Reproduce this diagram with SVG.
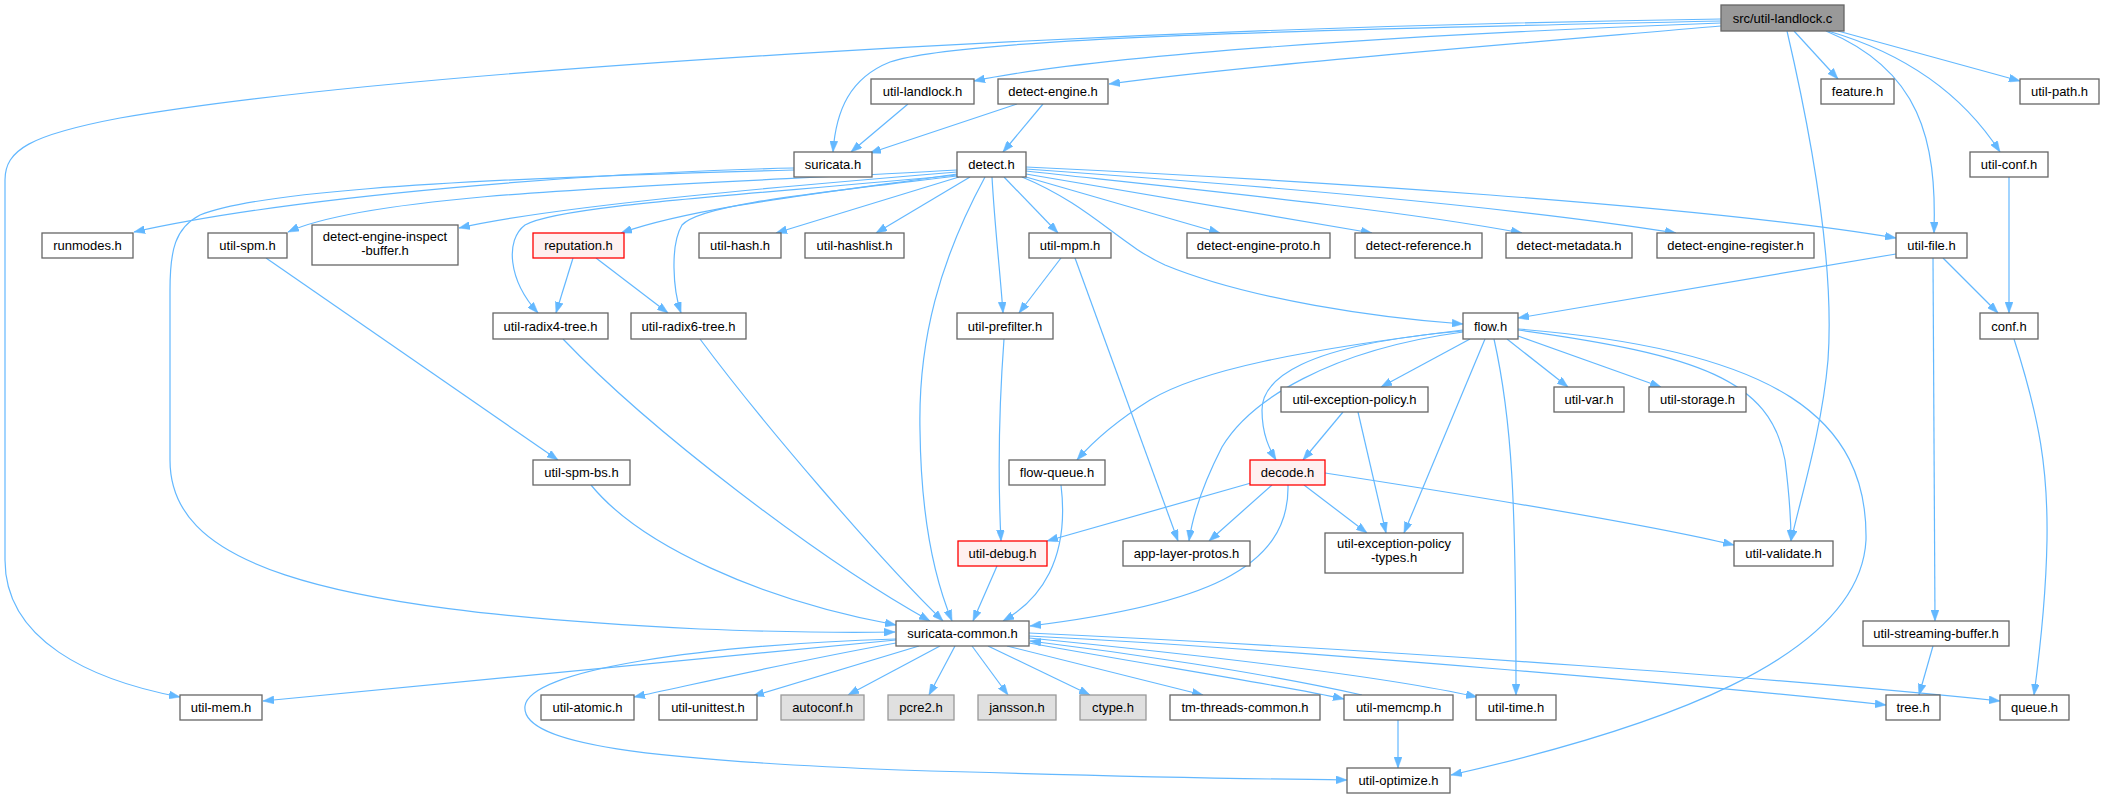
<svg xmlns="http://www.w3.org/2000/svg" width="2105" height="799" viewBox="0 0 2105 799">
<style>
.nd rect{fill:#ffffff;stroke:#666666;stroke-width:1.3}
.rd rect{fill:#fff0f0;stroke:#ff0000;stroke-width:1.3}
.gr rect{fill:#e0e0e0;stroke:#999999;stroke-width:1.3}
.sr rect{fill:#999999;stroke:#666666;stroke-width:1.3}
text{font-family:"Liberation Sans",Arial,sans-serif;font-size:13px;text-anchor:middle;fill:#000000}
#edges path{fill:none;stroke:#63b8ff;stroke-width:1.2;marker-end:url(#ah)}
</style>
<defs>
<marker id="ah" viewBox="0 0 11 8" refX="11" refY="4" markerWidth="11" markerHeight="8" markerUnits="userSpaceOnUse" orient="auto">
<path d="M0,0 L11,4 L0,8 z" fill="#63b8ff" stroke="#63b8ff" stroke-width="0.5"/>
</marker>
</defs>
<rect x="0" y="0" width="2105" height="799" fill="#ffffff"/>
<g id="edges">
<path d="M1721,21 C1300,30 960,38 890,62 C850,78 836,110 833,152"/>
<path d="M1721,23 C1400,35 1100,55 974,81"/>
<path d="M1721,26 C1500,45 1250,65 1109,84"/>
<path d="M1721,19 C1100,28 400,70 120,118 C30,135 5,150 5,180 L5,560 C5,640 90,680 180,697"/>
<path d="M1794,31 L1838,79"/>
<path d="M1838,31 L2020,81"/>
<path d="M1828,31 C1900,52 1960,90 2000,152"/>
<path d="M1826,31 C1920,70 1937,140 1934,233"/>
<path d="M1787,31 C1810,130 1835,260 1828,360 C1822,430 1800,500 1791,541"/>
<path d="M908,104 L851,152"/>
<path d="M1017,104 L870,153"/>
<path d="M1043,104 L1003,152"/>
<path d="M794,168 C600,172 300,195 134,232"/>
<path d="M794,170 C400,180 250,195 200,215 C175,228 170,250 170,290 L170,460 C170,560 300,610 700,629 C780,632 850,633 895,632"/>
<path d="M957,170 C700,185 380,190 288,232"/>
<path d="M957,172 C800,185 560,205 459,228"/>
<path d="M957,174 C850,190 700,205 621,233"/>
<path d="M957,175 C750,195 560,205 525,225 C505,240 508,280 538,313"/>
<path d="M957,176 C800,195 700,205 682,225 C670,245 673,290 681,313"/>
<path d="M959,177 L776,233"/>
<path d="M970,177 L876,233"/>
<path d="M985,177 C940,260 918,340 920,430 C921,520 935,580 952,621"/>
<path d="M992,177 C995,230 1000,270 1003,313"/>
<path d="M1004,177 L1058,233"/>
<path d="M1022,177 C1090,205 1120,245 1165,265 C1250,300 1380,318 1463,324"/>
<path d="M1026,177 L1220,233"/>
<path d="M1026,174 L1372,233"/>
<path d="M1026,171 C1200,190 1400,210 1522,233"/>
<path d="M1026,169 C1250,185 1500,205 1676,233"/>
<path d="M1026,167 C1300,180 1700,205 1896,238"/>
<path d="M573,258 L556,313"/>
<path d="M596,258 L668,313"/>
<path d="M266,258 L558,460"/>
<path d="M563,339 C650,430 820,560 930,621"/>
<path d="M700,339 C760,420 880,560 943,621"/>
<path d="M591,485 C640,545 760,600 896,625"/>
<path d="M1061,258 L1019,313"/>
<path d="M1075,258 L1178,541"/>
<path d="M1004,339 C998,420 998,480 1001,541"/>
<path d="M997,566 L973,621"/>
<path d="M1061,485 C1070,560 1040,600 1003,621"/>
<path d="M1288,485 C1290,570 1200,605 1030,626"/>
<path d="M1470,339 L1381,387"/>
<path d="M1463,331 C1300,345 1262,380 1262,410 C1262,435 1270,450 1276,460"/>
<path d="M1463,330 C1300,350 1200,370 1150,400 C1110,425 1090,445 1077,460"/>
<path d="M1463,332 C1330,350 1250,400 1222,447 C1200,490 1192,520 1189,541"/>
<path d="M1485,339 L1404,533"/>
<path d="M1494,339 C1512,420 1516,500 1516,695"/>
<path d="M1507,339 L1568,387"/>
<path d="M1518,336 L1661,387"/>
<path d="M1518,330 C1700,355 1770,380 1785,460 C1790,500 1791,520 1791,541"/>
<path d="M1518,329 C1780,350 1868,420 1866,540 C1860,660 1650,730 1451,775"/>
<path d="M1343,412 L1303,460"/>
<path d="M1358,412 L1386,533"/>
<path d="M1251,483 L1047,541"/>
<path d="M1272,485 L1209,541"/>
<path d="M1304,485 L1367,533"/>
<path d="M1325,473 C1500,500 1650,525 1734,545"/>
<path d="M1896,254 L1518,318"/>
<path d="M1943,258 L1998,313"/>
<path d="M1933,258 L1935,621"/>
<path d="M2009,177 L2009,313"/>
<path d="M2014,339 C2040,420 2048,470 2047,540 C2046,600 2040,650 2034,695"/>
<path d="M1933,646 L1919,695"/>
<path d="M896,640 L263,701"/>
<path d="M896,643 C800,660 700,683 634,697"/>
<path d="M919,646 L753,696"/>
<path d="M940,646 L848,695"/>
<path d="M955,646 L929,695"/>
<path d="M972,646 L1008,695"/>
<path d="M988,646 L1090,695"/>
<path d="M1007,646 L1203,695"/>
<path d="M1029,643 C1150,665 1280,685 1344,699"/>
<path d="M1362,695 C1260,672 1120,652 1030,641"/>
<path d="M1029,638 C1200,655 1380,675 1477,697"/>
<path d="M1029,636 C1300,650 1700,685 1886,705"/>
<path d="M1029,633 C1400,650 1800,680 2000,701"/>
<path d="M896,639 C700,645 530,670 525,706 C520,745 650,760 900,770 C1100,776 1250,779 1347,780"/>
<path d="M1398,720 L1398,768"/>
</g>
<g id="n-src" class="sr"><rect x="1721" y="5" width="123" height="26"/><text x="1782.5" y="23">src/util-landlock.c</text></g>
<g id="n-util-landlock" class="nd"><rect x="871" y="79" width="103" height="25"/><text x="922.5" y="96">util-landlock.h</text></g>
<g id="n-detect-engine" class="nd"><rect x="998" y="79" width="110" height="25"/><text x="1053" y="96">detect-engine.h</text></g>
<g id="n-feature" class="nd"><rect x="1821" y="79" width="73" height="25"/><text x="1857.5" y="96">feature.h</text></g>
<g id="n-util-path" class="nd"><rect x="2020" y="79" width="79" height="25"/><text x="2059.5" y="96">util-path.h</text></g>
<g id="n-suricata" class="nd"><rect x="794" y="152" width="78" height="25"/><text x="833" y="169">suricata.h</text></g>
<g id="n-detect" class="nd"><rect x="957" y="152" width="69" height="25"/><text x="991.5" y="169">detect.h</text></g>
<g id="n-util-conf" class="nd"><rect x="1970" y="152" width="78" height="25"/><text x="2009" y="169">util-conf.h</text></g>
<g id="n-runmodes" class="nd"><rect x="42" y="233" width="91" height="25"/><text x="87.5" y="250">runmodes.h</text></g>
<g id="n-util-spm" class="nd"><rect x="208" y="233" width="79" height="25"/><text x="247.5" y="250">util-spm.h</text></g>
<g id="n-inspect-buffer" class="nd"><rect x="312" y="225" width="146" height="40"/><text x="385" y="241">detect-engine-inspect</text><text x="385" y="255">-buffer.h</text></g>
<g id="n-reputation" class="rd"><rect x="533" y="233" width="91" height="25"/><text x="578.5" y="250">reputation.h</text></g>
<g id="n-util-hash" class="nd"><rect x="699" y="233" width="82" height="25"/><text x="740" y="250">util-hash.h</text></g>
<g id="n-util-hashlist" class="nd"><rect x="805" y="233" width="99" height="25"/><text x="854.5" y="250">util-hashlist.h</text></g>
<g id="n-util-mpm" class="nd"><rect x="1029" y="233" width="82" height="25"/><text x="1070" y="250">util-mpm.h</text></g>
<g id="n-detect-engine-proto" class="nd"><rect x="1187" y="233" width="143" height="25"/><text x="1258.5" y="250">detect-engine-proto.h</text></g>
<g id="n-detect-reference" class="nd"><rect x="1355" y="233" width="127" height="25"/><text x="1418.5" y="250">detect-reference.h</text></g>
<g id="n-detect-metadata" class="nd"><rect x="1506" y="233" width="126" height="25"/><text x="1569" y="250">detect-metadata.h</text></g>
<g id="n-detect-engine-register" class="nd"><rect x="1657" y="233" width="157" height="25"/><text x="1735.5" y="250">detect-engine-register.h</text></g>
<g id="n-util-file" class="nd"><rect x="1896" y="233" width="71" height="25"/><text x="1931.5" y="250">util-file.h</text></g>
<g id="n-util-radix4-tree" class="nd"><rect x="493" y="313" width="115" height="26"/><text x="550.5" y="331">util-radix4-tree.h</text></g>
<g id="n-util-radix6-tree" class="nd"><rect x="631" y="313" width="115" height="26"/><text x="688.5" y="331">util-radix6-tree.h</text></g>
<g id="n-util-prefilter" class="nd"><rect x="957" y="313" width="96" height="26"/><text x="1005" y="331">util-prefilter.h</text></g>
<g id="n-flow" class="nd"><rect x="1463" y="313" width="55" height="26"/><text x="1490.5" y="331">flow.h</text></g>
<g id="n-conf" class="nd"><rect x="1980" y="313" width="58" height="26"/><text x="2009" y="331">conf.h</text></g>
<g id="n-util-exception-policy" class="nd"><rect x="1281" y="387" width="147" height="25"/><text x="1354.5" y="404">util-exception-policy.h</text></g>
<g id="n-util-var" class="nd"><rect x="1554" y="387" width="70" height="25"/><text x="1589" y="404">util-var.h</text></g>
<g id="n-util-storage" class="nd"><rect x="1649" y="387" width="97" height="25"/><text x="1697.5" y="404">util-storage.h</text></g>
<g id="n-util-spm-bs" class="nd"><rect x="533" y="460" width="97" height="25"/><text x="581.5" y="477">util-spm-bs.h</text></g>
<g id="n-flow-queue" class="nd"><rect x="1009" y="460" width="96" height="25"/><text x="1057" y="477">flow-queue.h</text></g>
<g id="n-decode" class="rd"><rect x="1250" y="460" width="75" height="25"/><text x="1287.5" y="477">decode.h</text></g>
<g id="n-util-debug" class="rd"><rect x="958" y="541" width="89" height="25"/><text x="1002.5" y="558">util-debug.h</text></g>
<g id="n-app-layer-protos" class="nd"><rect x="1123" y="541" width="127" height="25"/><text x="1186.5" y="558">app-layer-protos.h</text></g>
<g id="n-util-exception-policy-types" class="nd"><rect x="1325" y="533" width="138" height="40"/><text x="1394" y="548">util-exception-policy</text><text x="1394" y="562">-types.h</text></g>
<g id="n-util-validate" class="nd"><rect x="1734" y="541" width="99" height="25"/><text x="1783.5" y="558">util-validate.h</text></g>
<g id="n-suricata-common" class="nd"><rect x="896" y="621" width="133" height="25"/><text x="962.5" y="638">suricata-common.h</text></g>
<g id="n-util-streaming-buffer" class="nd"><rect x="1863" y="621" width="146" height="25"/><text x="1936" y="638">util-streaming-buffer.h</text></g>
<g id="n-util-mem" class="nd"><rect x="180" y="695" width="82" height="25"/><text x="221" y="712">util-mem.h</text></g>
<g id="n-util-atomic" class="nd"><rect x="541" y="695" width="93" height="25"/><text x="587.5" y="712">util-atomic.h</text></g>
<g id="n-util-unittest" class="nd"><rect x="659" y="695" width="98" height="25"/><text x="708" y="712">util-unittest.h</text></g>
<g id="n-autoconf" class="gr"><rect x="781" y="695" width="83" height="25"/><text x="822.5" y="712">autoconf.h</text></g>
<g id="n-pcre2" class="gr"><rect x="888" y="695" width="66" height="25"/><text x="921" y="712">pcre2.h</text></g>
<g id="n-jansson" class="gr"><rect x="978" y="695" width="78" height="25"/><text x="1017" y="712">jansson.h</text></g>
<g id="n-ctype" class="gr"><rect x="1080" y="695" width="66" height="25"/><text x="1113" y="712">ctype.h</text></g>
<g id="n-tm-threads-common" class="nd"><rect x="1170" y="695" width="150" height="25"/><text x="1245" y="712">tm-threads-common.h</text></g>
<g id="n-util-memcmp" class="nd"><rect x="1344" y="695" width="109" height="25"/><text x="1398.5" y="712">util-memcmp.h</text></g>
<g id="n-util-time" class="nd"><rect x="1476" y="695" width="80" height="25"/><text x="1516" y="712">util-time.h</text></g>
<g id="n-tree" class="nd"><rect x="1886" y="695" width="54" height="25"/><text x="1913" y="712">tree.h</text></g>
<g id="n-queue" class="nd"><rect x="2000" y="695" width="69" height="25"/><text x="2034.5" y="712">queue.h</text></g>
<g id="n-util-optimize" class="nd"><rect x="1347" y="768" width="103" height="25"/><text x="1398.5" y="785">util-optimize.h</text></g>
</svg>
